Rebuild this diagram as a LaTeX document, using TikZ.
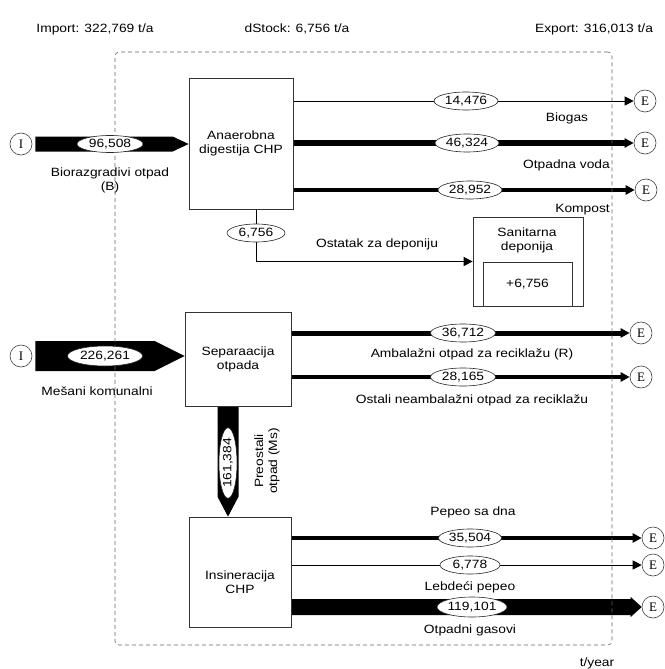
\documentclass[tikz,border=0pt]{standalone}
\usepackage{fontspec}
\setmainfont[FakeStretch=1.15]{Liberation Sans}
\newfontfamily\serifE{Liberation Serif}
\usetikzlibrary{arrows.meta,shapes.geometric,calc}
\pgfdeclarelayer{bg}
\pgfsetlayers{bg,main}
\begin{document}
\begin{tikzpicture}[x=1pt,y=-1pt,
  font=\fontsize{12}{14}\selectfont,
  box/.style={draw=black!80, line width=0.7pt, inner sep=0pt, align=center},
  val/.style={ellipse, draw=black!85, line width=0.6pt, fill=white, inner sep=0pt, minimum height=18},
  ecirc/.style={circle, draw=black!75, line width=0.6pt, minimum size=22, inner sep=0pt, font=\serifE\fontsize{13}{13}\selectfont},
  flow/.style={draw=black, -{Triangle[length=9pt,width=9pt]}},
  lbl/.style={inner sep=0pt, align=center},
  fat/.style={fill=black}
]
\useasboundingbox (0,0) rectangle (664,669);

% header
\node[lbl] (imp) at (95,29) {Import: 322,769 t/a};
\node[lbl] (dst) at (297,29) {dStock: 6,756 t/a};
\node[lbl] (exp) at (594,29) {Export: 316,013 t/a};

% system boundary
\node[draw=black!60, dash pattern=on 4pt off 3pt, line width=0.6pt, rounded corners=4pt,
      minimum width=497, minimum height=593, inner sep=0pt] (sys) at (363.5,348.5) {};

% processes
\node[box, minimum width=104, minimum height=131] (b1) at (241,143.5) {Anaerobna\\digestija CHP};
\node[box, minimum width=106, minimum height=94] (b2) at (238,359) {Separaacija\\otpada};
\node[box, minimum width=102, minimum height=110,
      label={[lbl,yshift=-10pt]center:Insineracija\\CHP}] (b3) at (240,572) {};
\node[box, minimum width=110, minimum height=89] (lf) at (528,261.5) {};
\node[lbl] (lft) at (527,240) {Sanitarna\\deponija};
\node[box, minimum width=89, minimum height=44] (lfi) at (527.5,284) {+6,756};

% import / export circles
\node[ecirc] (i1) at (21,144) {I};
\node[ecirc] (i2) at (21,356) {I};
\node[ecirc] (e1) at (645,101) {E};
\node[ecirc] (e2) at (645,143) {E};
\node[ecirc] (e3) at (646,190) {E};
\node[ecirc] (e4) at (641,333) {E};
\node[ecirc] (e5) at (641,377) {E};
\node[ecirc] (e6) at (653,538) {E};
\node[ecirc] (e7) at (653,565) {E};
\node[ecirc] (e8) at (653,607) {E};

% values
\node[val, minimum width=66, minimum height=17] (v0) at (110,144) {96,508};
\node[val, minimum width=75, minimum height=20] (v9) at (105,356) {226,261};
\node[val, minimum width=64] (v1) at (466,101) {14,476};
\node[val, minimum width=64] (v2) at (467,143) {46,324};
\node[val, minimum width=64] (v3) at (470,190) {28,952};
\node[val, minimum width=58] (st) at (256,233) {6,756};
\node[val, minimum width=65] (v4) at (463,333) {36,712};
\node[val, minimum width=65] (v5) at (463,377) {28,165};
\node[val, minimum width=70, rotate=90] (ms) at (228,463) {161,384};
\node[val, minimum width=63] (v6) at (470,538) {35,504};
\node[val, minimum width=60] (v7) at (470,565) {6,778};
\node[val, minimum width=70, minimum height=20] (v8) at (472,607) {119,101};

% flow labels
\node[lbl] (t0) at (110,180) {Biorazgradivi otpad\\(B)};
\node[lbl] (t9) at (97,391) {Mešani komunalni};
\node[lbl] (t1) at (567,118) {Biogas};
\node[lbl, anchor=east] (t2) at (610,165) {Otpadna voda};
\node[lbl, anchor=east] (t3) at (610,210) {Kompost};
\node[lbl] (ts) at (377,244) {Ostatak za deponiju};
\node[lbl] (t4) at (472,354) {Ambalažni otpad za reciklažu (R)};
\node[lbl] (t5) at (472,400) {Ostali neambalažni otpad za reciklažu};
\node[lbl, rotate=90] (tm) at (267,461) {Preostali\\otpad (Ms)};
\node[lbl] (t6) at (473,512) {Pepeo sa dna};
\node[lbl] (t7) at (470,587) {Lebdeći pepeo};
\node[lbl] (t8) at (470,630) {Otpadni gasovi};
\node[lbl] (unit) at (597,663) {t/year};

\begin{pgfonlayer}{bg}
% fat flows
\fill[fat] ($(i1.east)+(3,-7.5)$) -- ($(b1.west|-i1)+(-16,-7.5)$) -- (b1.west|-i1)
   -- ($(b1.west|-i1)+(-16,7.5)$) -- ($(i1.east)+(3,7.5)$) -- cycle;
\fill[fat] ($(i2.east)+(3,-15)$) -- ($(b2.west|-i2)+(-30,-15)$) -- (b2.west|-i2)
   -- ($(b2.west|-i2)+(-30,15)$) -- ($(i2.east)+(3,15)$) -- cycle;
\fill[fat] ($(b2.south-|ms)+(-10.5,0)$) -- ($(b3.north-|ms)+(-10.5,-20)$) -- (b3.north-|ms)
   -- ($(b3.north-|ms)+(10.5,-20)$) -- ($(b2.south-|ms)+(10.5,0)$) -- cycle;
\fill[fat] ($(b3.east|-e8)+(0,-8)$) -- ($(e8.west)+(-11,-8)$) -- ($(e8.west)+(-11,-10)$)
   -- (e8.west) -- ($(e8.west)+(-11,10)$) -- ($(e8.west)+(-11,8)$) -- ($(b3.east|-e8)+(0,8)$) -- cycle;
% line flows
\draw[flow, line width=1pt] (b1.east|-e1) -- (e1);
\draw[flow, line width=6pt] (b1.east|-e2) -- (e2);
\draw[flow, line width=4pt] (b1.east|-e3) -- (e3);
\draw[flow, line width=5pt] (b2.east|-e4) -- (e4);
\draw[flow, line width=3.5pt] (b2.east|-e5) -- (e5);
\draw[flow, line width=4.5pt] (b3.east|-e6) -- (e6);
\draw[flow, line width=1pt] (b3.east|-e7) -- (e7);
\draw[flow, line width=1pt] (b1.south-|st) |- (lf.west);
\end{pgfonlayer}
\end{tikzpicture}
\end{document}
